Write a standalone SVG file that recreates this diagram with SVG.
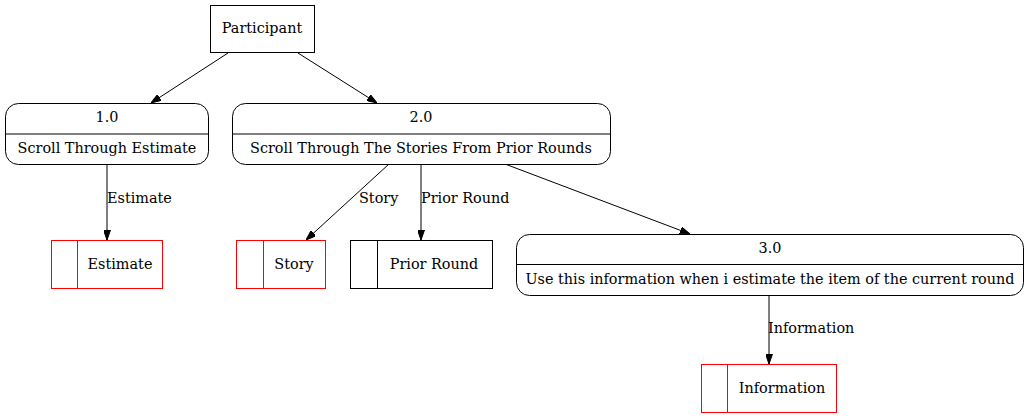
<svg xmlns="http://www.w3.org/2000/svg" width="1028" height="419" viewBox="0 0 1028 419">
<style>
text{font-family:"DejaVu Serif",serif;font-size:14.4px;fill:#000}
.c{text-anchor:middle}
.n{fill:#fff;stroke:#000;stroke-width:1}
.r{fill:#fff;stroke:#ff0000;stroke-width:1}
.ln{stroke:#000;stroke-width:1;fill:none}
.lr{stroke:#ff0000;stroke-width:1;fill:none}
.e{stroke:#000;stroke-width:1;fill:none;marker-end:url(#a)}
</style>
<defs>
<marker id="a" viewBox="0 0 10 7" refX="10" refY="3.5" markerWidth="10" markerHeight="7" markerUnits="userSpaceOnUse" orient="auto">
<path d="M0,0 L10,3.5 L0,7 Z" fill="#000" stroke="#000"/>
</marker>
</defs>
<rect width="1028" height="419" fill="#fff"/>
<g id="edges">
<path class="e" d="M228,53 L151,103"/>
<path class="e" d="M298,53 L377,103"/>
<path class="e" d="M107,164 L107,240"/>
<text x="107" y="203">Estimate</text>
<path class="e" d="M389,164 L306,240"/>
<text x="359" y="203">Story</text>
<path class="e" d="M421,164 L421,240"/>
<text x="421" y="203">Prior Round</text>
<path class="e" d="M505,164 L690,234"/>
<path class="e" d="M769,296 L769,364"/>
<text x="768" y="333">Information</text>
</g>
<g id="participant">
<rect class="n" x="210.5" y="5.5" width="104" height="47"/>
<text class="c" x="262" y="33">Participant</text>
</g>
<g id="p1">
<rect class="n" x="5.5" y="103.5" width="203" height="61" rx="13"/>
<line class="ln" x1="5.5" y1="134" x2="208.5" y2="134"/>
<text class="c" x="107" y="122">1.0</text>
<text class="c" x="107" y="153">Scroll Through Estimate</text>
</g>
<g id="p2">
<rect class="n" x="232.5" y="103.5" width="378" height="61" rx="13"/>
<line class="ln" x1="232.5" y1="134" x2="610.5" y2="134"/>
<text class="c" x="421" y="122">2.0</text>
<text class="c" x="421" y="153">Scroll Through The Stories From Prior Rounds</text>
</g>
<g id="p3">
<rect class="n" x="516.5" y="234.5" width="507" height="61" rx="13"/>
<line class="ln" x1="516.5" y1="264.5" x2="1023.5" y2="264.5"/>
<text class="c" x="770" y="253">3.0</text>
<text class="c" x="770" y="284">Use this information when i estimate the item of the current round</text>
</g>
<g id="s-estimate">
<rect class="r" x="51.5" y="240.5" width="111" height="48"/>
<line class="lr" x1="77.5" y1="240.5" x2="77.5" y2="288.5"/>
<text class="c" x="120" y="269">Estimate</text>
</g>
<g id="s-story">
<rect class="r" x="236.5" y="240.5" width="89" height="48"/>
<line class="lr" x1="263.5" y1="240.5" x2="263.5" y2="288.5"/>
<text class="c" x="294" y="269">Story</text>
</g>
<g id="s-prior">
<rect class="n" x="350.5" y="240.5" width="142" height="48"/>
<line class="ln" x1="377.5" y1="240.5" x2="377.5" y2="288.5"/>
<text class="c" x="434" y="269">Prior Round</text>
</g>
<g id="s-info">
<rect class="r" x="701.5" y="364.5" width="135" height="48"/>
<line class="lr" x1="727.5" y1="364.5" x2="727.5" y2="412.5"/>
<text class="c" x="782" y="393">Information</text>
</g>
</svg>
